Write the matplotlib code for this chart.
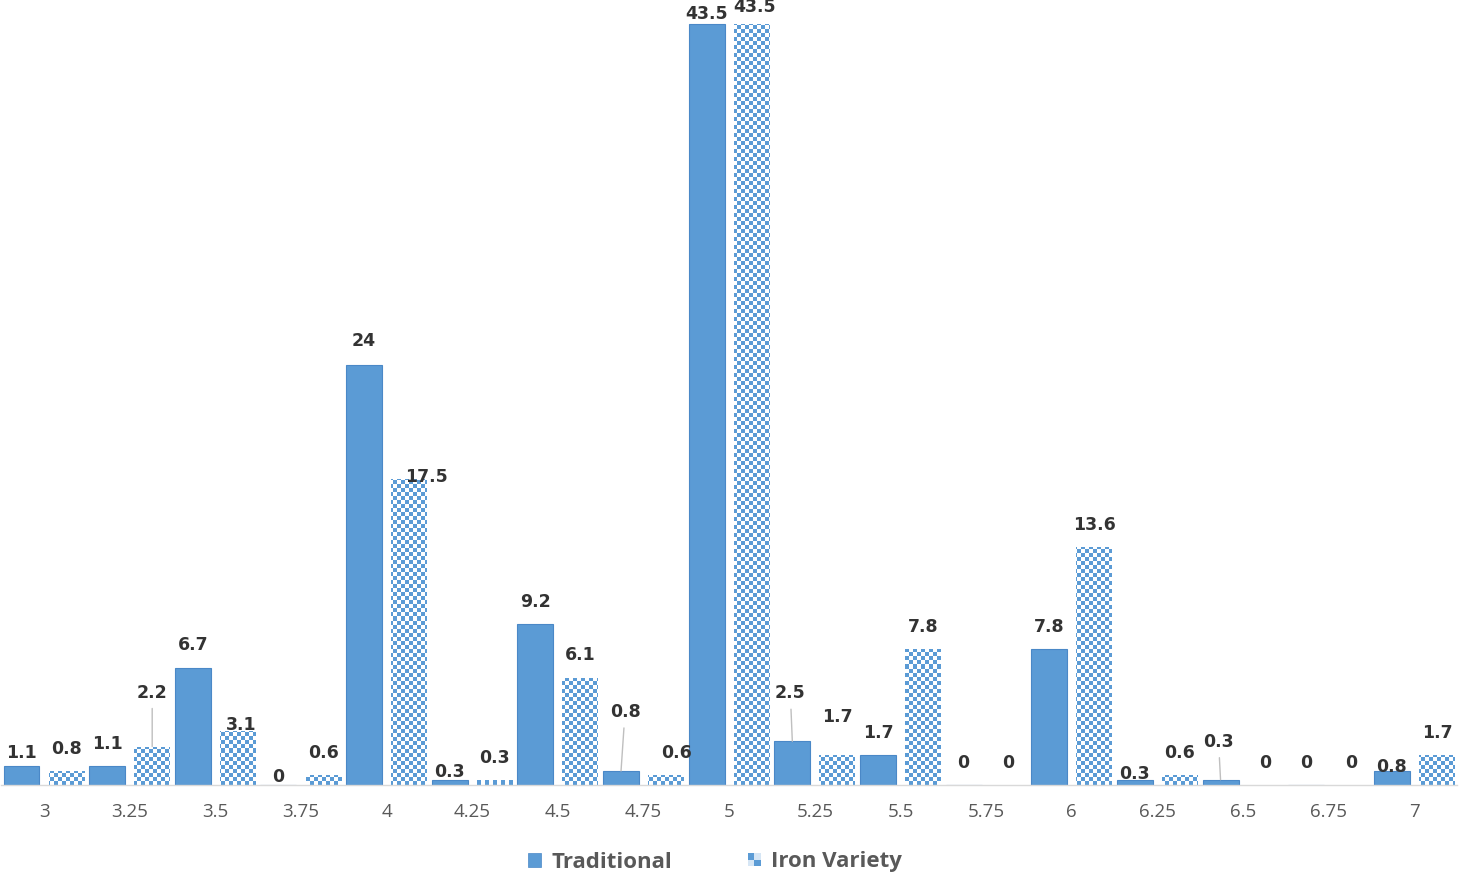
import numpy as np
import matplotlib
matplotlib.use("Agg")
import matplotlib.pyplot as plt
from matplotlib.colors import ListedColormap
from matplotlib.patches import Rectangle
from matplotlib.legend_handler import HandlerBase

# ---------------- data ----------------
categories = ["3", "3.25", "3.5", "3.75", "4", "4.25", "4.5", "4.75", "5",
              "5.25", "5.5", "5.75", "6", "6.25", "6.5", "6.75", "7"]
traditional = [1.1, 1.1, 6.7, 0, 24, 0.3, 9.2, 0.8, 43.5,
               2.5, 1.7, 0, 7.8, 0.3, 0.3, 0, 0.8]
iron_variety = [0.8, 2.2, 3.1, 0.6, 17.5, 0.3, 6.1, 0.6, 43.5,
                1.7, 7.8, 0, 13.6, 0.6, 0, 0, 1.7]
series_names = ["Traditional", "Iron Variety"]

# label offsets (pixels: dx, dy of label centre from bar top) and leader flags
trad_label_off = [(0, 13), (0, 22), (0, 23), (0, 8), (0, 24), (0, 8), (0, 22), (4, 59),
                  (0, 10), (-2, 48), (0, 22), (0, 22), (0, 22), (0, 6), (-2, 38),
                  (0, 22), (0, 4)]
trad_leader = [False] * 17
for i in (7, 9, 14):
    trad_leader[i] = True
iron_label_off = [(0, 22), (0, 54), (3, 6), (0, 22), (17, 2), (0, 22), (0, 23), (10, 22),
                  (3, 17), (0, 38), (0, 22), (0, 22), (0, 22), (0, 22), (0, 22),
                  (0, 22), (0, 22)]
iron_leader = [False] * 17
iron_leader[1] = True

BLUE = "#5B9BD5"
EDGE = "#4A88C7"
LABEL_C = "#333333"
TICK_C = "#595959"
FONT = "Open Sans"
LABEL_FONT = "DejaVu Sans"

W, H, DPI = 1459, 876, 100
fig = plt.figure(figsize=(W / DPI, H / DPI), dpi=DPI)
ax_left_px, ax_right_px, ax_bot_px, ax_top_px = 1.2, 1457.2, 785, 6
ax = fig.add_axes([ax_left_px / W, (H - ax_bot_px) / H,
                   (ax_right_px - ax_left_px) / W, (ax_bot_px - ax_top_px) / H])

px_per_unit = 17.49
ymax = (ax_bot_px - ax_top_px) / px_per_unit
n = len(categories)
x = np.arange(n)
bw = 0.42
off = 0.263

tb = ax.bar(x - off, traditional, bw, color=BLUE, edgecolor=EDGE, linewidth=0.8, zorder=2)
ib = ax.bar(x + off, iron_variety, bw, color="white", edgecolor="none", linewidth=0, zorder=2)

ax.set_xlim(-0.5, n - 0.5)
ax.set_ylim(0, ymax)

# checkerboard texture clipped to iron bars
wpx = int(round(ax_right_px - ax_left_px))
hpx = int(round(ax_bot_px - ax_top_px))
yy, xx = np.mgrid[0:hpx, 0:wpx]
cell = 4
checker = (((yy // cell) + (xx // cell)) % 2).astype(float)
cmap = ListedColormap(["white", BLUE])
for b in ib:
    im = ax.imshow(checker, cmap=cmap, vmin=0, vmax=1, origin="lower",
                   extent=(-0.5, n - 0.5, 0, ymax), aspect="auto",
                   interpolation="nearest", zorder=2.5)
    im.set_clip_path(b)
ax.set_xlim(-0.5, n - 0.5)
ax.set_ylim(0, ymax)

# labels
def fmt(v):
    return ("%g" % v)

for bars, vals, offs, leads in ((tb, traditional, trad_label_off, trad_leader),
                                (ib, iron_variety, iron_label_off, iron_leader)):
    for b, v, (dx, dy), ld in zip(bars, vals, offs, leads):
        xc = b.get_x() + b.get_width() / 2
        kw = {}
        if ld:
            kw["arrowprops"] = dict(arrowstyle="-", color="#bfbfbf", lw=1.0,
                                    shrinkA=3, shrinkB=0)
        ax.annotate(fmt(v), xy=(xc, v), xytext=(dx, dy), textcoords="offset pixels",
                    ha="center", va="center", fontsize=12.5, fontweight="bold",
                    color=LABEL_C, family=LABEL_FONT, zorder=5, **kw)

# axes styling
for s in ("top", "left", "right"):
    ax.spines[s].set_visible(False)
ax.spines["bottom"].set_color("#d9d9d9")
ax.spines["bottom"].set_linewidth(1.0)
ax.set_yticks([])
ax.set_xticks(x)
ax.set_xticklabels(categories, fontsize=13.5, color=TICK_C, family=FONT)
ax.tick_params(axis="x", length=0, pad=13)


class HandlerChecker(HandlerBase):
    def create_artists(self, legend, orig_handle, xdescent, ydescent, width, height,
                       fontsize, trans):
        arts = []
        k = 2
        s = min(width, height) / k
        x0 = -xdescent + (width - s * k) / 2
        y0 = -ydescent + (height - s * k) / 2
        for i in range(k):
            for j in range(k):
                c = BLUE if (i + j) % 2 == 1 else "#d6e6f5"
                r = Rectangle((x0 + i * s, y0 + j * s), s, s, facecolor=c,
                              edgecolor="none", transform=trans)
                arts.append(r)
        return arts


h1 = Rectangle((0, 0), 1, 1, facecolor=BLUE, edgecolor=EDGE, linewidth=0.5)
h2 = Rectangle((0, 0), 1, 1, facecolor="white")
leg = fig.legend([h1, h2], series_names, loc="center",
                 bbox_to_anchor=(715 / W, (H - 862) / H), ncol=2, frameon=False,
                 prop={"family": FONT, "size": 16, "weight": "bold"},
                 handlelength=0.6, handleheight=0.6, handletextpad=0.45,
                 columnspacing=3.4, handler_map={h2: HandlerChecker()})
for t in leg.get_texts():
    t.set_color(TICK_C)

fig.savefig("out.png", dpi=DPI)
